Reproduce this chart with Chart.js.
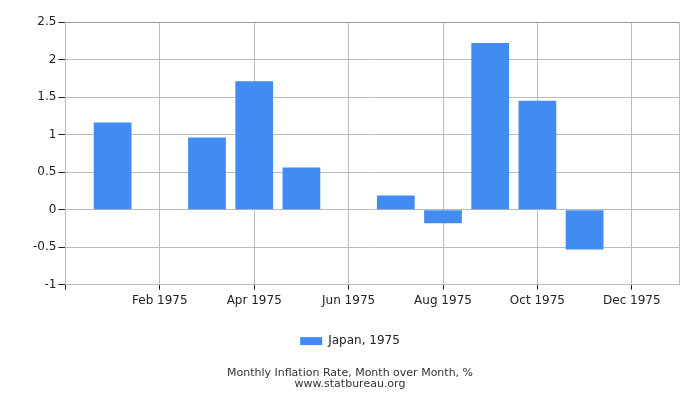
<!DOCTYPE html>
<html>
<head>
<meta charset="utf-8">
<script src="https://cdn.jsdelivr.net/npm/chart.js@4"></script>
<style>
html,body{margin:0;padding:0;background:#fff;}
#wrap{width:700px;height:400px;}
</style>
</head>
<body>
<div id="wrap"><canvas id="c"></canvas></div>
<script>
const months = ['Jan 1975','Feb 1975','Mar 1975','Apr 1975','May 1975','Jun 1975','Jul 1975','Aug 1975','Sep 1975','Oct 1975','Nov 1975','Dec 1975'];
const values = [1.16, 0, 0.96, 1.71, 0.56, 0, 0.19, -0.18, 2.22, 1.45, -0.53, 0];
const shownLabels = ['Feb 1975','Apr 1975','Jun 1975','Aug 1975','Oct 1975','Dec 1975'];
const yTicks = [-1, -0.5, 0, 0.5, 1, 1.5, 2, 2.5];
const seriesName = 'Japan, 1975';
const titleLines = ['Monthly Inflation Rate, Month over Month, %', 'www.statbureau.org'];

const labels = [''].concat(months, ['']);
const data = [null].concat(values, [null]);
const FONT = "'DejaVu Sans', sans-serif";

new Chart(document.getElementById('c'), {
  type: 'bar',
  data: {
    labels: labels,
    datasets: [{
      label: seriesName,
      data: data,
      backgroundColor: '#428bf0',
      borderColor: '#428bf0',
      borderWidth: 0,
      barPercentage: 0.8,
      categoryPercentage: 1.0
    }]
  },
  options: {
    responsive: true,
    maintainAspectRatio: false,
    animation: false,
    layout: { padding: { left: 21, right: 21, top: 22, bottom: 11 } },
    plugins: {
      legend: {
        position: 'bottom',
        labels: { boxWidth: 22, boxHeight: 8, padding: 23, color: '#222', font: { family: FONT, size: 12 } }
      },
      title: {
        display: true,
        position: 'bottom',
        text: titleLines,
        color: '#333',
        font: { family: FONT, size: 11, weight: 'normal', lineHeight: 0.95 },
        padding: { top: 11, bottom: 0 }
      },
      tooltip: { enabled: false }
    },
    scales: {
      x: {
        offset: false,
        grid: {
          offset: false,
          color: ctx => (ctx.index > 0 && ctx.index < 13 && ctx.index % 2 === 0) ? '#bbbbbb' : 'rgba(0,0,0,0)',
          tickColor: ctx => (ctx.index > 0 && ctx.index < 13 && ctx.index % 2 === 0) || ctx.index === 0 ? '#222' : 'rgba(0,0,0,0)',
          tickLength: 5,
          lineWidth: 1
        },
        border: { color: '#bbbbbb' },
        ticks: {
          autoSkip: false,
          maxRotation: 0,
          padding: 4,
          color: '#222',
          font: { family: FONT, size: 12 },
          callback: function(v, i) { const l = labels[i]; return shownLabels.includes(l) ? l : ''; }
        }
      },
      y: {
        min: yTicks[0],
        max: yTicks[yTicks.length - 1],
        afterBuildTicks: axis => { axis.ticks = yTicks.map(v => ({ value: v })); },
        afterFit: axis => { axis.width += 10; },
        grid: {
          color: ctx => ctx.tick && ctx.tick.value === 2.5 ? '#999999' : '#bbbbbb',
          tickColor: '#222',
          tickLength: 7
        },
        border: { color: '#bbbbbb' },
        ticks: {
          padding: 2,
          color: '#222',
          font: { family: FONT, size: 12 },
          callback: v => String(v)
        }
      }
    }
  },
  plugins: [{
    id: 'rightBorder',
    afterDraw(chart) {
      const a = chart.chartArea, ctx = chart.ctx;
      ctx.save();
      ctx.strokeStyle = '#bbbbbb';
      ctx.lineWidth = 1;
      ctx.beginPath();
      ctx.moveTo(Math.round(a.right) + 0.5, a.top);
      ctx.lineTo(Math.round(a.right) + 0.5, a.bottom);
      ctx.stroke();
      ctx.restore();
    }
  }]
});
</script>
</body>
</html>
